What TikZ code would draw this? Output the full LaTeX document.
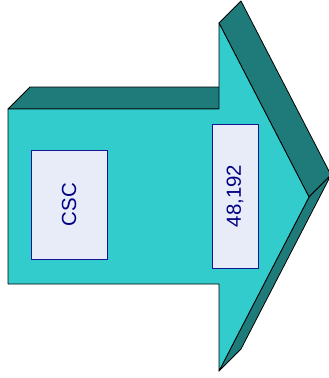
\documentclass[tikz,border=0pt]{standalone}
\usepackage{fontspec}
\setmainfont{Liberation Sans}
\definecolor{facefill}{RGB}{51,204,204}
\definecolor{sidefill}{RGB}{31,122,122}
\definecolor{boxfill}{RGB}{231,236,248}
\definecolor{boxline}{RGB}{20,20,150}
\definecolor{labeltext}{RGB}{0,0,128}
\begin{document}
\begin{tikzpicture}[x=1pt,y=-1pt,
  side/.style={fill=sidefill,draw=black,line width=0.8pt,line join=round},
  front/.style={fill=facefill,draw=black,line width=0.8pt,line join=round},
  valuebox/.style={draw=boxline,fill=boxfill,line width=0.8pt,rotate=90,inner sep=0pt,
    text=labeltext,font=\fontsize{20.4}{24}\selectfont}]
  \useasboundingbox (0,0) rectangle (329,378);
  % depth faces of the arrow
  \path[side] (8,109) -- (30,87) -- (241,87) -- (219,109) -- cycle;
  \path[side] (219,23) -- (241,1) -- (331,175) -- (309,197) -- cycle;
  \path[side] (309,197) -- (331,175) -- (241,349) -- (219,371) -- cycle;
  % front face of the arrow
  \path[front] (8,109) -- (219,109) -- (219,23) -- (309,197) -- (219,371)
    -- (219,284) -- (8,284) -- cycle;
  % labels
  \node[valuebox,minimum width=109pt,minimum height=76pt] (csc) at (69,204.5) {CSC};
  \node[valuebox,minimum width=144pt,minimum height=46pt] (count) at (235,196) {48,192};
\end{tikzpicture}
\end{document}
